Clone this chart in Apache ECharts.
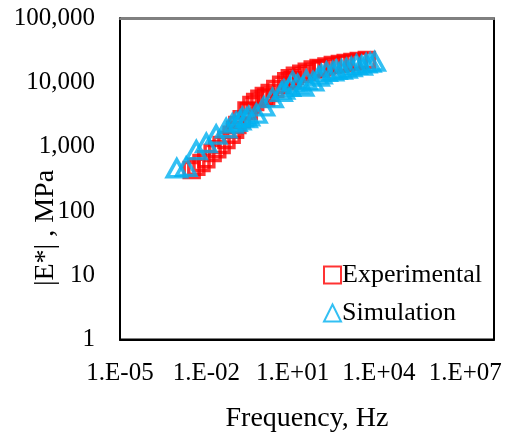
<!DOCTYPE html>
<html>
<head>
<meta charset="utf-8">
<script src="https://cdn.jsdelivr.net/npm/echarts@6/dist/echarts.min.js"></script>
<style>html,body{margin:0;padding:0;background:#fff;}#c{width:506px;height:434px;}</style>
</head>
<body>
<div id="c"></div>
<script>
// Experimental: frequency (Hz) and |E*| (MPa)
const expFreq = [0.0031,0.0045,0.0068,0.010,0.0166,0.024,0.034,0.05,0.076,0.1,0.12,0.17,0.25,0.3,0.37,0.5,0.7,1.0,1.2,1.6,2.5,4,6,8,10,12,20,31,50,80,100,150,250,440,700,1200,2000,3800];
const expMod  = [437,490,560,640,800,920,1070,1280,1550,1850,2200,2700,3700,3600,4500,5000,5600,6200,5900,6900,8000,9300,10500,11700,11000,12800,13800,14800,16000,17000,16500,17800,18800,19500,20300,21000,21800,22500];
// Simulation
const simFreq = [0.00094,0.002,0.0045,0.01,0.022,0.049,0.08,0.11,0.15,0.18,0.25,0.3,0.55,1.0,2.0,4.1,5,8,10,15,23,30,51,80,100,150,250,330,500,740,1100,1660,2500,3600,5000,7100];
const simMod  = [465,490,890,1150,1550,1950,2300,2450,2600,2900,2800,3000,3300,4270,5750,7200,7800,8600,10500,9500,8700,11000,10500,12500,13500,14800,15000,15800,16000,16600,17500,19000,18500,20000,20500,21400];
// Tick labels
const xTickLabels = {'-5':'1.E-05','-2':'1.E-02','1':'1.E+01','4':'1.E+04','7':'1.E+07'};
const yTickLabels = {'0':'1','1':'10','2':'100','3':'1,000','4':'10,000','5':'100,000'};
const yTitle = '|E*| , MPa';
const xTitle = 'Frequency, Hz';

const font = 'Liberation Serif';
const chart = echarts.init(document.getElementById('c'));
chart.setOption({
  animation: false,
  grid: {left: 120, top: 18.5, right: 12, bottom: 94.5, show: true, borderColor: '#000', borderWidth: 2, outerBoundsMode: 'none', containLabel: false},
  graphic: [{
    type: 'text', x: 46, y: 228, rotation: Math.PI / 2,
    style: {text: yTitle, fontFamily: font, fontSize: 28, fill: '#000', align: 'center', verticalAlign: 'middle'}
  }],
  legend: {
    orient: 'vertical', left: 318, top: 257, itemGap: 12, itemWidth: 17, itemHeight: 17,
    textStyle: {fontFamily: font, fontSize: 26, color: '#000', padding: [0,0,0,-4]},
    data: ['Experimental', 'Simulation']
  },
  xAxis: [{
    type: 'log', logBase: 10, min: 1e-5, max: 1e8, interval: 1,
    axisLine: {show: true, lineStyle: {color: '#000', width: 2}},
    axisTick: {show: false}, splitLine: {show: false},
    axisLabel: {
      fontFamily: font, fontSize: 25, color: '#000', margin: 21, showMinLabel: true, showMaxLabel: true,
      formatter: v => { const e = Math.round(Math.log10(v)); return xTickLabels[String(e)] || ''; }
    },
    name: xTitle, nameLocation: 'middle', nameGap: 65,
    nameTextStyle: {fontFamily: font, fontSize: 28, color: '#000'}
  }, {
    type: 'value', position: 'top', min: 0, max: 1,
    axisLine: {show: true, onZero: false, lineStyle: {color: '#808080', width: 2}},
    axisTick: {show: false}, axisLabel: {show: false}, splitLine: {show: false}
  }],
  yAxis: {
    type: 'log', logBase: 10, min: 1, max: 1e5,
    axisLine: {show: true, lineStyle: {color: '#000', width: 2}},
    axisTick: {show: false}, splitLine: {show: false},
    axisLabel: {
      fontFamily: font, fontSize: 25, color: '#000', margin: 25,
      formatter: v => yTickLabels[String(Math.round(Math.log10(v)))] || ''
    }
  },
  series: [{
    name: 'Experimental', type: 'scatter', symbol: 'rect', symbolSize: 15,
    itemStyle: {color: 'rgba(0,0,0,0)', borderColor: '#FF0000', borderWidth: 3.5},
    data: expFreq.map((f, i) => [f, expMod[i]])
  }, {
    name: 'Simulation', type: 'scatter', symbol: 'triangle', symbolSize: [19, 17],
    itemStyle: {color: 'rgba(0,0,0,0)', borderColor: '#00B0F0', borderWidth: 3.5},
    data: simFreq.map((f, i) => [f, simMod[i]])
  }]
});
</script>
</body>
</html>
